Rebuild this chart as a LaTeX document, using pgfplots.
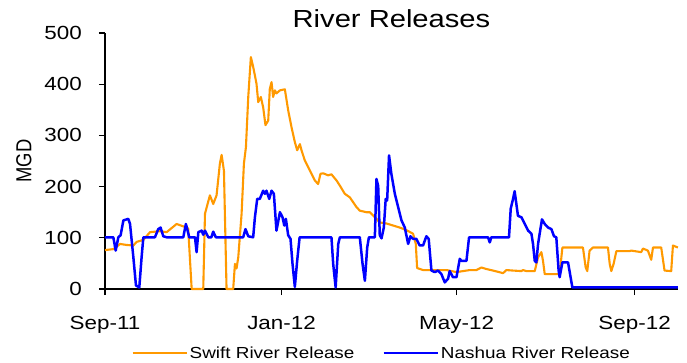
\documentclass[border=0pt]{standalone}
\usepackage{pgfplots}
\pgfplotsset{compat=1.18}
\usepackage{fontspec}
\setmainfont{Liberation Sans}[FakeStretch=1.18]
\newfontfamily\plainsans{Liberation Sans}
\definecolor{swift}{RGB}{255,153,0}
\definecolor{nashua}{RGB}{0,0,255}
\begin{document}
\begin{tikzpicture}
\useasboundingbox (-105pt,-73pt) rectangle (582pt,289pt);
\begin{axis}[
  at={(0pt,0pt)}, anchor=south west,
  scale only axis, width=573pt, height=256pt,
  xmin=0, xmax=396, ymin=0, ymax=500,
  clip=false,
  axis x line=bottom, axis y line=left,
  axis line style={-, black, line width=1.6pt},
  x axis line style={line width=2.2pt},
  tick style={black, line width=1.2pt},
  tick align=outside, major tick length=6pt,
  xtick={0,122,243,366},
  xticklabels={Sep-11,Jan-12,May-12,Sep-12},
  ytick={0,100,200,300,400,500},
  /pgf/number format/assume math mode=true,
  ticklabel style={font=\fontsize{19}{22}\selectfont},
  xticklabel style={anchor=base, yshift=-34pt},
  yticklabel style={anchor=east, inner sep=0pt, xshift=-17pt},
  title={River Releases},
  title style={at={(axis description cs:0.5,1)}, anchor=base, yshift=0pt, font=\fontsize{24.7}{28}\selectfont},
  ylabel={\scalebox{1}[1.18]{\plainsans\fontsize{18.4}{20}\selectfont MGD}},
  ylabel style={at={(axis description cs:-0.1414,0.5)}, anchor=center, rotate=0},
  legend columns=2,
  legend style={at={(axis description cs:0.483,-0.25)}, anchor=center, draw=none, fill=none,
    font=\fontsize{16}{18}\selectfont, /tikz/every even column/.append style={column sep=26pt}},
  legend image code/.code={\draw[#1] (0pt,0pt) -- (54pt,0pt);},
]
\addplot[swift, line width=2.1pt, line join=round] coordinates {
(0,76) (6,78) (10.4,88) (15,86) (19.6,85) (21.9,92) (26.5,96) (31.1,111) (38,113) (42.6,111) (49.5,127) (56.4,120) (57.5,118) (59.9,0) (67.9,0) (69.1,147) (72.5,183) (74.8,166) (77.1,183) (79.4,245) (80.6,262) (82.2,231) (84.0,0) (88.6,0) (89.8,49) (90.9,40) (92.1,62) (94.4,147) (96,245) (97.4,277) (99,375) (100.8,453) (102.4,434) (104.7,401) (105.9,365) (107.7,375) (109.3,355) (110.9,320) (112.8,329) (113.9,391) (115.1,404) (116.2,375) (117.4,388) (118.5,382) (120.9,388) (124.3,390) (126.6,349) (128.9,316) (131.2,287) (132.8,271) (134.7,283) (135.8,271) (138.1,251) (140.4,238) (142.7,225) (145,212) (147.3,205) (148.9,225) (150.8,226) (154.2,222) (156.5,224) (160,212) (162.3,202) (165.7,186) (169.2,179) (173.8,160) (176.1,153) (180.7,150) (183,150) (187.6,137) (189.9,130) (194.5,128) (199.1,124) (203.7,120) (208.3,115) (212.9,108) (214.8,88) (215.7,41) (219.8,37) (236,37) (242.9,33) (249.8,36) (252.1,37) (256.7,37) (260.1,42) (263.6,39) (268.2,36) (275.1,31) (277.4,37) (282,36) (287.8,35) (288.9,37) (291.2,35) (297,35) (299.3,62) (301.6,72) (302.7,55) (303.9,29) (314.2,29) (316.1,81) (330.3,81) (332.2,42) (333.3,35) (334.9,75) (337.2,81) (347.6,81) (348.8,49) (349.9,35) (351.5,49) (353.4,74) (362.6,74) (363.7,75) (370.6,72) (371.8,79) (375.2,75) (377.5,57) (378.7,81) (384.4,81) (386.7,36) (391.3,35) (392.5,85) (395.9,81)
};
\addlegendentry{Swift River Release}
\addplot[nashua, line width=2.5pt, line join=round] coordinates {
(0,101) (5.75,101) (7.4,75) (9.2,101) (10.8,105) (12.7,134) (16.1,137) (17.3,127) (19.6,62) (21.4,7) (23.7,3) (25.3,62) (26.5,101) (34.5,101) (36.8,117) (38.4,120) (40.3,103) (42.6,101) (54.1,101) (55.9,127) (57.1,114) (58.2,101) (62.2,101) (63.3,72) (64.5,111) (66.8,114) (67.9,106) (69.1,114) (71.4,101) (73.5,101) (74.8,112) (76.6,101) (95.5,101) (97.1,117) (99,103) (102.4,101) (103.6,140) (105.2,176) (107,176) (109.3,192) (110.5,186) (111.6,192) (113.5,176) (115.1,192) (116.7,186) (118.5,114) (120.9,150) (122.7,140) (123.9,124) (125,137) (126.6,105) (128.2,98) (129.6,49) (131.2,4) (132.8,55) (134.5,101) (156.5,101) (157.7,49) (159.4,3) (161.2,88) (162.3,101) (176.1,101) (178,49) (179.6,16) (181.2,81) (182.4,101) (186.5,101) (187.6,215) (188.8,201) (189.9,105) (191.1,99) (192.7,120) (194,176) (195,173) (196.3,261) (197.9,225) (200.3,186) (202.6,160) (204.9,134) (207.2,120) (209.5,88) (211.1,103) (212.9,98) (215.2,98) (217.5,85) (219.8,85) (222.1,103) (223.7,98) (225.6,36) (227.9,33) (230.2,36) (232.5,29) (234.8,13) (237.1,20) (238.2,35) (240.5,23) (242.9,23) (245.2,59) (246.3,55) (248.6,55) (249.8,55) (251.6,101) (264.7,101) (265.9,91) (267,101) (279.2,101) (280.4,157) (282,176) (283.1,191) (284.3,166) (285.4,143) (287.8,140) (290.1,127) (292.4,114) (294.7,108) (295.8,88) (297,55) (298.1,52) (299.3,88) (300.4,108) (302,136) (303.9,127) (306.2,120) (308.5,117) (310.3,103) (311.9,101) (313.5,36) (314.2,23) (316.1,52) (320,52) (323,3) (395.9,3)
};
\addlegendentry{Nashua River Release}
\end{axis}
\end{tikzpicture}
\end{document}
